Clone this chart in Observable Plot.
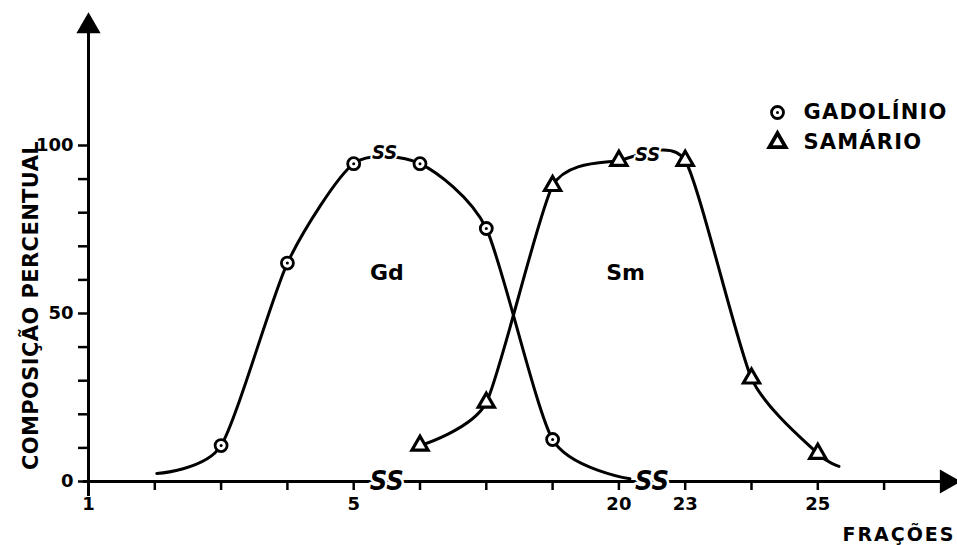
<!DOCTYPE html>
<html><head><meta charset="utf-8">
<script src="https://cdn.jsdelivr.net/npm/d3@7"></script>
<script src="https://cdn.jsdelivr.net/npm/@observablehq/plot@0.6"></script>
<style>
body{margin:0;background:#fff}
svg{display:block}
</style>
</head><body><div id="chart"></div>
<script>
// ---- data ----
const gdFractions = [3, 4, 5, 17, 18, 19];
const gdValues    = [10.7, 65, 94.6, 94.6, 75.3, 12.5];
const smFractions = [17, 18, 19, 20, 23, 24, 25];
const smValues    = [10.7, 23.5, 88, 95.5, 95.5, 30.7, 8.3];
// where the drawn curves start / end beyond the markers
const gdCurveStart = [2.03, 2.4];
const gdCurveEnd   = [20.5, 0.8];
const smCurveEnd   = [25.32, 4.5];
const xTicks = [1, 2, 3, 4, 5, 17, 18, 19, 20, 23, 24, 25, 26];
const xTickLabels = [1, 5, 20, 23, 25];
const yTicks = [0, 10, 20, 30, 40, 50, 60, 70, 80, 90, 100];
const yTickLabels = [0, 50, 100];
const axisBreaks = [11, 21.5];
const curveBreaks = [[10.6, 97.8], [21.3, 97.4]];
const legendNames = ["GADOLÍNIO", "SAMÁRIO"];
const seriesNames = ["Gd", "Sm"];
const seriesLabelPos = [[11, 62], [20.3, 62]];
const yTitle = "COMPOSIÇÃO PERCENTUAL";
const xTitle = "FRAÇÕES";

// ---- broken x axis: fraction -> slot position (equal spacing within each piece) ----
const breakDomain = [1, 5, 17, 20, 23, 26];
const breakSlots  = [0, 4, 5, 8, 9, 12];
const slot = d3.scaleLinear().domain(breakDomain).range(breakSlots);
const slotToFrac = d3.scaleLinear().domain(breakSlots).range(breakDomain);

// ---- tables ----
const gd = gdFractions.map((f, i) => ({x: slot(f), y: gdValues[i]}));
const sm = smFractions.map((f, i) => ({x: slot(f), y: smValues[i]}));
const gdCurve = [{x: slot(gdCurveStart[0]), y: gdCurveStart[1]}, ...gd, {x: slot(gdCurveEnd[0]), y: gdCurveEnd[1]}];
const smCurve = [...sm, {x: slot(smCurveEnd[0]), y: smCurveEnd[1]}];
const seriesLabels = seriesNames.map((t, i) => ({t, x: slot(seriesLabelPos[i][0]), y: seriesLabelPos[i][1]}));
const curveBreakData = curveBreaks.map(([f, y]) => ({x: slot(f), y}));
const axisBreakData = axisBreaks.map(f => ({x: slot(f), y: 0}));

// ---- layout ----
const W = 957, H = 545;
const mL = 88, mB = 64, mT = 145, mR = 2;
const step = 66.3;
const xMax = (W - mR - mL) / step;

const font = "DejaVu Sans, Liberation Sans, sans-serif";
const ssFont = "DejaVu Sans Condensed, DejaVu Sans, sans-serif";

const plot = Plot.plot({
  width: W, height: H,
  marginLeft: mL, marginRight: mR, marginTop: mT, marginBottom: mB,
  style: {fontFamily: font, background: "#fff", color: "#000"},
  x: {domain: [0, xMax]},
  y: {domain: [0, 100]},
  marks: [
    // axes lines with arrows
    Plot.ruleY([0], {x1: -0.08, x2: xMax - 0.2, stroke: "#000", strokeWidth: 3}),
    Plot.ruleX([0], {y1: -4.5, y2: 135, stroke: "#000", strokeWidth: 3}),
    Plot.dot([{x: xMax - 0.13, y: 0}], {x: "x", y: "y", symbol: "triangle", rotate: 90, r: 9, fill: "#000"}),
    Plot.dot([{x: 0, y: 135.5}], {x: "x", y: "y", symbol: "triangle", r: 9, fill: "#000"}),
    Plot.axisY({ticks: yTicks, tickSize: 10, tickPadding: 5, strokeWidth: 2.5,
      tickFormat: d => yTickLabels.includes(d) ? String(d) : "",
      fontSize: 18, fontWeight: "bold", label: null}),
    Plot.axisX({ticks: xTicks.map(slot), tickSize: 9, tickPadding: 7, strokeWidth: 2.5,
      tickFormat: d => { const f = Math.round(slotToFrac(d)); return xTickLabels.includes(f) ? String(f) : ""; },
      fontSize: 18, fontWeight: "bold", label: null}),
    // curves
    Plot.line(gdCurve, {x: "x", y: "y", curve: "cardinal", tension: 0.3, stroke: "#000", strokeWidth: 3}),
    Plot.line(smCurve, {x: "x", y: "y", curve: "cardinal", tension: 0.38, stroke: "#000", strokeWidth: 3}),
    // markers
    Plot.dot(gd, {x: "x", y: "y", r: 6, fill: "#fff", stroke: "#000", strokeWidth: 2.8}),
    Plot.dot(gd, {x: "x", y: "y", r: 1.5, fill: "#000"}),
    Plot.dot(sm, {x: "x", y: "y", symbol: "triangle", r: 6, fill: "#fff", stroke: "#000", strokeWidth: 3.2}),
    // axis / curve breaks
    Plot.text(axisBreakData, {x: "x", y: "y", text: () => "SS", fontSize: 27, fontStyle: "italic", fontWeight: "bold",
      fontFamily: ssFont, fill: "#000", stroke: "#fff", strokeWidth: 5}),
    Plot.text(curveBreakData, {x: "x", y: "y", text: () => "SS", fontSize: 20, fontStyle: "italic", fontWeight: "bold",
      fontFamily: ssFont, fill: "#000", stroke: "#fff", strokeWidth: 4}),
    // series labels
    Plot.text(seriesLabels, {x: "x", y: "y", text: "t", fontSize: 22, fontWeight: "bold", fill: "#000"}),
    // axis titles
    Plot.text([yTitle], {frameAnchor: "left", text: d => d, rotate: -90, textAnchor: "middle", lineAnchor: "middle",
      dx: -57, dy: -8, fontSize: 21, fontWeight: "bold", fill: "#000"}),
    Plot.text([xTitle], {frameAnchor: "bottom-right", text: d => d, textAnchor: "end", lineAnchor: "middle", dy: 53,
      fontSize: 19, fontWeight: "bold", fill: "#000"}),
    // legend
    Plot.dot([0], {frameAnchor: "top-right", dx: -178, dy: -33, r: 6, fill: "#fff", stroke: "#000", strokeWidth: 2.8}),
    Plot.dot([0], {frameAnchor: "top-right", dx: -178, dy: -33, r: 1.5, fill: "#000"}),
    Plot.dot([0], {frameAnchor: "top-right", dx: -178, dy: -3, symbol: "triangle", r: 6, fill: "#fff", stroke: "#000", strokeWidth: 3.8}),
    Plot.text([legendNames[0]], {frameAnchor: "top-right", text: d => d, dx: -152, dy: -33,
      textAnchor: "start", lineAnchor: "middle", fontSize: 21, fontWeight: "bold", fill: "#000"}),
    Plot.text([legendNames[1]], {frameAnchor: "top-right", text: d => d, dx: -152, dy: -3,
      textAnchor: "start", lineAnchor: "middle", fontSize: 21, fontWeight: "bold", fill: "#000"})
  ]
});
// letter spacing for the wide hand-lettered titles
plot.querySelectorAll("text").forEach(t => {
  const s = t.textContent;
  if (legendNames.includes(s)) t.style.letterSpacing = "1.2px";
  else if (s === xTitle) t.style.letterSpacing = "2px";
  else if (s === yTitle) t.style.letterSpacing = "0.4px";
});
document.getElementById("chart").append(plot);
</script>
</body></html>
